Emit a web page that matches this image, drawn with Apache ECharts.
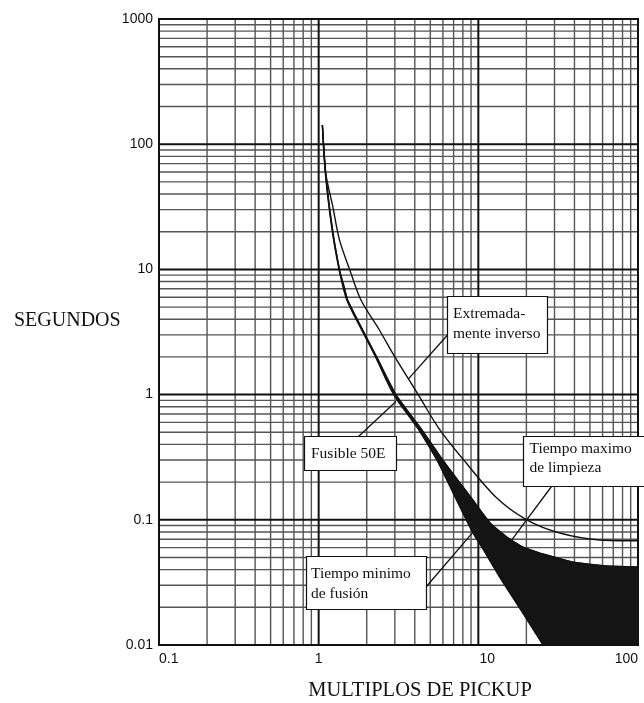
<!DOCTYPE html>
<html><head><meta charset="utf-8">
<script src="https://cdn.jsdelivr.net/npm/echarts@6/dist/echarts.min.js"></script>
<style>html,body{margin:0;padding:0;background:#fff}#c{width:644px;height:703px}</style>
</head><body><div id="c"></div>
<script>
// ---- axis ranges & ticks ----
const xRange = [0.1, 100];
const yRange = [0.01, 1000];
const xTickLabels = ['0.1', '1', '10', '100'];
const yTickLabels = ['0.01', '0.1', '1', '10', '100', '1000'];
const xMajor = [0.1, 1, 10, 100];
const xMinor = [0.2,0.3,0.4,0.5,0.6,0.7,0.8,0.9, 2,3,4,5,6,7,8,9, 20,30,40,50,60,70,80,90];
const yMajor = [0.01, 0.1, 1, 10, 100, 1000];
const yMinor = [0.02,0.03,0.04,0.05,0.06,0.07,0.08,0.09, 0.2,0.3,0.4,0.5,0.6,0.7,0.8,0.9,
                2,3,4,5,6,7,8,9, 20,30,40,50,60,70,80,90, 200,300,400,500,600,700,800,900];

// ---- curves ----
// Relay: "Extremadamente inverso"
const relayX = [1.055, 1.107, 1.226, 1.35, 1.58, 1.84, 2.4, 3.0, 4.2, 5.7, 8.1, 13.0, 20.1, 32.4, 57.7, 100];
const relayY = [142, 59, 31.7, 17.2, 9.6, 5.7, 3.28, 2.0, 1.0, 0.53, 0.30, 0.15, 0.10, 0.0785, 0.069, 0.068];
// Fuse 50E: maximum clearing time (upper edge of band)
const maxClearX = [1.055, 1.107, 1.169, 1.25, 1.36, 1.445, 1.52, 1.89, 2.31, 3.05, 4.45, 6.0, 9.25, 11.9, 15.1, 19.0, 24.3, 39.2, 63.9, 100];
const maxClearY = [142, 59, 31.7, 17.2, 9.6, 7.28, 5.7, 3.28, 2.0, 1.0, 0.52, 0.30, 0.144, 0.094, 0.073, 0.0607, 0.0543, 0.046, 0.0428, 0.042];
// Fuse 50E: minimum melting time (lower edge of band)
const minMeltX = [1.055, 1.10, 1.16, 1.24, 1.35, 1.50, 1.86, 2.27, 2.95, 4.25, 5.5, 7.3, 9.25, 10.5, 13.6, 19.0, 25.4];
const minMeltY = [142, 59, 31.7, 17.2, 9.6, 5.7, 3.28, 2.0, 1.0, 0.52, 0.30, 0.144, 0.0785, 0.0607, 0.0349, 0.018, 0.01];

const SERIF = '"Liberation Serif", "Times New Roman", serif';
const SANS = '"Liberation Sans", Arial, sans-serif';

const chart = echarts.init(document.getElementById('c'), null, {renderer: 'canvas'});

function gridSeries(vals, vertical, major) {
  return {
    type: 'custom', silent: true, z: 1, animation: false,
    data: vals.map(v => vertical ? [v, 1] : [1, v]),
    encode: {x: 0, y: 1},
    renderItem: (params, api) => {
      const v = api.value(vertical ? 0 : 1);
      const p1 = vertical ? api.coord([v, yRange[0]]) : api.coord([xRange[0], v]);
      const p2 = vertical ? api.coord([v, yRange[1]]) : api.coord([xRange[1], v]);
      return {type: 'line', shape: {x1: p1[0], y1: p1[1], x2: p2[0], y2: p2[1]},
              style: {stroke: major ? '#111' : '#555', lineWidth: major ? 2 : 1.4}};
    }
  };
}
const zip = (xs, ys) => xs.map((x, i) => [x, ys[i]]);

chart.setOption({
  animation: false,
  backgroundColor: '#fff',
  grid: {left: 159, right: 6, top: 19, bottom: 58, show: true, borderColor: '#000', borderWidth: 2, backgroundColor: 'transparent'},
  xAxis: {
    type: 'log', logBase: 10, min: xRange[0], max: xRange[1],
    axisLine: {show: false}, axisTick: {show: false}, splitLine: {show: false},
    axisLabel: {
      margin: 7, fontSize: 14, color: '#111', fontFamily: SANS,
      alignMinLabel: 'left', alignMaxLabel: 'right',
      formatter: (v, i) => i === 2 ? '{o|' + xTickLabels[i] + '}' : xTickLabels[i],
      rich: {o: {fontSize: 14, color: '#111', fontFamily: SANS, padding: [0, 0, 0, 18]}}
    }
  },
  yAxis: {
    type: 'log', logBase: 10, min: yRange[0], max: yRange[1],
    axisLine: {show: false}, axisTick: {show: false}, splitLine: {show: false},
    axisLabel: {margin: 6, fontSize: 14, color: '#111', fontFamily: SANS,
      formatter: (v, i) => yTickLabels[i]}
  },
  series: [
    gridSeries(xMinor, true, false),
    gridSeries(yMinor, false, false),
    gridSeries(xMajor, true, true),
    gridSeries(yMajor, false, true),
    {
      type: 'custom', silent: true, z: 3, animation: false,
      data: [[1, 1]],
      renderItem: (params, api) => {
        const pts = [];
        for (let i = 0; i < maxClearX.length; i++) pts.push(api.coord([maxClearX[i], maxClearY[i]]));
        pts.push(api.coord([xRange[1], yRange[0]]));
        for (let i = minMeltX.length - 1; i >= 0; i--) pts.push(api.coord([minMeltX[i], minMeltY[i]]));
        return {type: 'polygon', shape: {points: pts}, style: {fill: '#141414', stroke: '#141414', lineWidth: 0.8}};
      }
    },
    {name: 'Tiempo maximo de limpieza', type: 'line', z: 4, data: zip(maxClearX, maxClearY), showSymbol: false, smooth: 0.3,
     lineStyle: {color: '#111', width: 1.3}, silent: true},
    {name: 'Tiempo minimo de fusión', type: 'line', z: 4, data: zip(minMeltX, minMeltY), showSymbol: false, smooth: 0.3,
     lineStyle: {color: '#111', width: 1.3}, silent: true},
    {name: 'Extremadamente inverso', type: 'line', z: 4, data: zip(relayX, relayY), showSymbol: false, smooth: 0.3,
     lineStyle: {color: '#111', width: 1.4}, silent: true}
  ]
});

// ---- annotations ----
const px = (x, y) => chart.convertToPixel({gridIndex: 0}, [x, y]);
function leader(from, toData) {
  const t = px(toData[0], toData[1]);
  return {type: 'line', z: 100, silent: true, shape: {x1: from[0], y1: from[1], x2: t[0], y2: t[1]}, style: {stroke: '#111', lineWidth: 1.3}};
}
function box(x, y, w, h) {
  return {type: 'rect', z: 101, silent: true, shape: {x: x, y: y, width: w, height: h}, style: {fill: '#fff', stroke: '#111', lineWidth: 1.2}};
}
function txt(s, x, y, size, align) {
  return {type: 'text', z: 102, silent: true, x: x, y: y,
          style: {text: s, font: size + 'px ' + SERIF, fill: '#111', align: align || 'left', verticalAlign: 'middle'}};
}
const elements = [
  leader([447.5, 335], [3.64, 1.33]),
  leader([358.5, 436.5], [3.05, 0.88]),
  leader([551.5, 486.5], [16.2, 0.069]),
  leader([426.5, 586.5], [9.29, 0.08]),
  box(447.5, 296.5, 100, 57),
  txt('Extremada-', 453, 314, 15.5),
  txt('mente inverso', 453, 334, 15.5),
  box(304.5, 436.5, 92, 34),
  txt('Fusible 50E', 311, 454, 15.5),
  box(523.5, 436.5, 130, 50),
  txt('Tiempo maximo', 529.5, 449, 15.5),
  txt('de limpieza', 529.5, 468, 15.5),
  box(306.5, 556.5, 120, 53),
  txt('Tiempo minimo', 311, 574, 15.5),
  txt('de fusión', 311, 594, 15.5),
  txt('SEGUNDOS', 14, 321, 20),
  txt('MULTIPLOS DE PICKUP', 420, 691, 20.5, 'center')
];
chart.setOption({graphic: {elements: elements}});
</script>
</body></html>
